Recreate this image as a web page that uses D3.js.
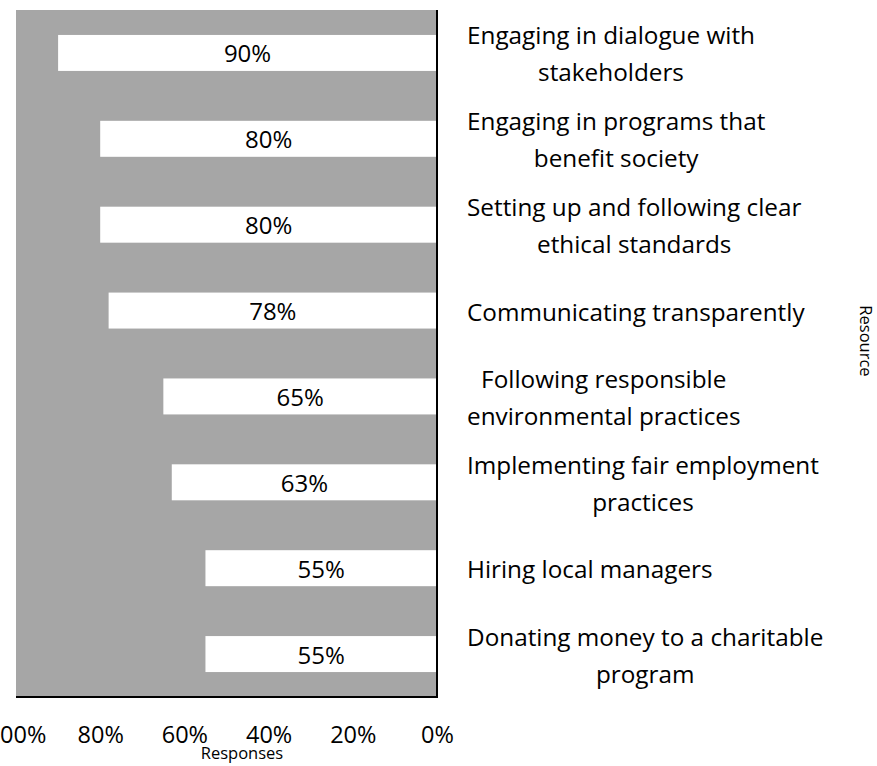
<!DOCTYPE html>
<html>
<head>
<meta charset="utf-8">
<script src="https://cdn.jsdelivr.net/npm/d3@7"></script>
<style>
  html, body { margin: 0; padding: 0; background: #ffffff; }
  svg { display: block; }
  text { font-family: "Open Sans", "Noto Sans", sans-serif; fill: #000; }
</style>
</head>
<body>
<svg id="chart" width="877" height="766"></svg>
<script>
// ---- data ----
const categoryLines = [
  ["Engaging in dialogue with", "stakeholders"],
  ["Engaging in programs that", "benefit society"],
  ["Setting up and following clear", "ethical standards"],
  ["Communicating transparently"],
  ["Following responsible", "environmental practices"],
  ["Implementing fair employment", "practices"],
  ["Hiring local managers"],
  ["Donating money to a charitable", "program"]
];
const categories = categoryLines.map(l => l.join(" "));
const values = [0.90, 0.80, 0.80, 0.78, 0.65, 0.63, 0.55, 0.55];
const tickValues = [0, 0.2, 0.4, 0.6, 0.8, 1.0];
const xTitle = "Responses";
const yTitle = "Resource";

// ---- layout ----
const plot = { left: 16, right: 437, top: 10, bottom: 697 };
const svg = d3.select("#chart");

const x = d3.scaleLinear().domain([0, 1]).range([plot.right, plot.left]);
const y = d3.scaleBand().domain(categories).range([plot.top, plot.bottom])
  .paddingInner(0.581).paddingOuter(0.2905);

// plot background
svg.append("rect")
  .attr("x", plot.left).attr("y", plot.top)
  .attr("width", plot.right - plot.left).attr("height", plot.bottom - plot.top)
  .attr("fill", "#a6a6a6");

// bars
svg.append("g").selectAll("rect").data(values).join("rect")
  .attr("x", d => x(d))
  .attr("y", (d, i) => y(categories[i]))
  .attr("width", d => x(0) - x(d))
  .attr("height", y.bandwidth())
  .attr("fill", "#ffffff");

// bar labels
svg.append("g").selectAll("text").data(values).join("text")
  .attr("x", d => (x(d) + x(0)) / 2)
  .attr("y", (d, i) => y(categories[i]) + y.bandwidth() / 2)
  .attr("text-anchor", "middle")
  .attr("dominant-baseline", "central")
  .style("font-size", "24px")
  .text(d => d3.format(".0%")(d));

// axis lines
svg.append("line")
  .attr("x1", plot.right).attr("x2", plot.right)
  .attr("y1", plot.top).attr("y2", plot.bottom)
  .attr("stroke", "#000").attr("stroke-width", 2);
svg.append("line")
  .attr("x1", plot.left).attr("x2", plot.right + 1)
  .attr("y1", plot.bottom).attr("y2", plot.bottom)
  .attr("stroke", "#000").attr("stroke-width", 2);

// x axis ticks
const xAxis = d3.axisBottom(x).tickValues(tickValues)
  .tickFormat(d3.format(".0%")).tickSize(0).tickPadding(0);
const gx = svg.append("g").attr("transform", `translate(0, 734)`).call(xAxis);
gx.select(".domain").remove();
gx.selectAll("text")
  .attr("dy", null).attr("y", 0)
  .attr("dominant-baseline", "central")
  .style("font-family", '"Open Sans", sans-serif')
  .style("font-size", "23.5px")
  .attr("fill", "#000");

// x title
svg.append("text")
  .attr("x", 242).attr("y", 759)
  .attr("text-anchor", "middle")
  .style("font-size", "16.5px")
  .text(xTitle);

// y title (right side, rotated)
svg.append("text")
  .attr("transform", "translate(860, 341) rotate(90)")
  .attr("text-anchor", "middle")
  .style("font-size", "16.5px")
  .text(yTitle);

// category labels
const labelLeft = 467;
const lineGap = 37;
const lg = svg.append("g");
categoryLines.forEach((lines, i) => {
  const cy = y(categories[i]) + y.bandwidth() / 2;
  const t = lg.append("text")
    .attr("text-anchor", "middle")
    .attr("dominant-baseline", "central")
    .style("font-size", "24.3px");
  const spans = lines.map((ln, j) => t.append("tspan")
    .attr("y", cy + (j - (lines.length - 1) / 2) * lineGap)
    .attr("dominant-baseline", "central")
    .text(ln));
  const maxW = d3.max(spans, s => s.node().getComputedTextLength());
  spans.forEach(s => s.attr("x", labelLeft + maxW / 2));
});
</script>
</body>
</html>
